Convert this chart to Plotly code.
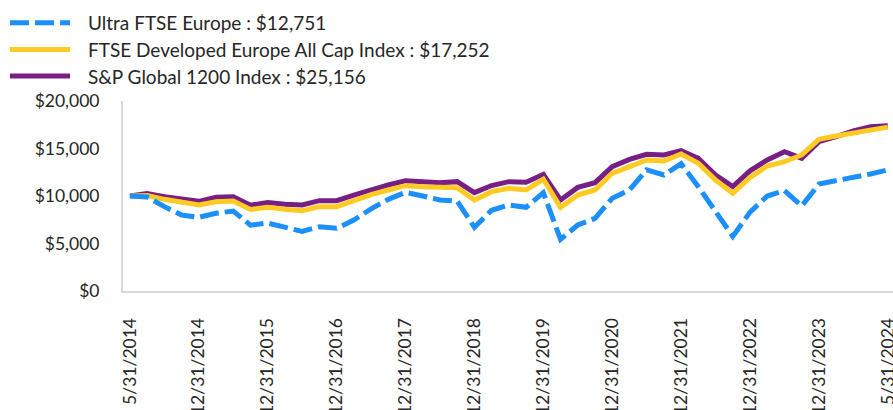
import plotly.graph_objects as go

dates = [
    "5/31/2014", "6/30/2014", "8/31/2014", "9/30/2014", "12/31/2014",
    "3/31/2015", "6/30/2015", "9/30/2015", "12/31/2015",
    "3/31/2016", "6/30/2016", "9/30/2016", "12/31/2016",
    "3/31/2017", "6/30/2017", "9/30/2017", "12/31/2017",
    "3/31/2018", "6/30/2018", "9/30/2018", "12/31/2018",
    "3/31/2019", "6/30/2019", "9/30/2019", "12/31/2019",
    "3/31/2020", "6/30/2020", "9/30/2020", "12/31/2020",
    "3/31/2021", "6/30/2021", "9/30/2021", "12/31/2021",
    "3/31/2022", "6/30/2022", "9/30/2022", "12/31/2022",
    "3/31/2023", "6/30/2023", "9/30/2023", "12/31/2023",
    "1/31/2024", "2/29/2024", "3/31/2024", "5/31/2024",
]

tick_labels = [
    "5/31/2014", "12/31/2014", "12/31/2015", "12/31/2016", "12/31/2017",
    "12/31/2018", "12/31/2019", "12/31/2020", "12/31/2021", "12/31/2022",
    "12/31/2023", "5/31/2024",
]

y_ticks = [0, 5000, 10000, 15000, 20000]
y_tick_labels = ["$0", "$5,000", "$10,000", "$15,000", "$20,000"]

ultra_ftse_europe = [
    10000, 9900, 8880, 8000, 7750, 8180, 8420, 6930, 7150, 6730,
    6280, 6770, 6600, 7470, 8650, 9650, 10390, 10000, 9580, 9470,
    6700, 8500, 9050, 8810, 10350, 5440, 6950, 7650, 9760, 10630,
    12760, 12210, 13400, 10980, 8350, 5750, 8300, 10000, 10560, 8950,
    11260, 11580, 11900, 12320, 12751,
]

ftse_dev_europe = [
    10000, 10050, 9650, 9330, 9050, 9400, 9470, 8580, 8810, 8610,
    8460, 8880, 8880, 9510, 10140, 10630, 11090, 10980, 10880, 10880,
    9580, 10460, 10810, 10630, 11760, 8810, 10100, 10630, 12390, 13090,
    13790, 13680, 14420, 13440, 11680, 10280, 11950, 13160, 13610, 14320,
    15970, 16320, 16670, 17020, 17252,
]

sp_global_1200 = [
    10000, 10250, 9930, 9680, 9440, 9860, 9930, 9030, 9310, 9140,
    9050, 9510, 9510, 10100, 10690, 11160, 11610, 11510, 11400, 11510,
    10350, 11100, 11510, 11440, 12280, 9580, 10910, 11400, 13090, 13860,
    14390, 14320, 14770, 13970, 12210, 10980, 12650, 13790, 14670, 13970,
    15720, 16240, 16840, 17300, 17400,
]

legend_labels = [
    "Ultra FTSE Europe : $12,751",
    "FTSE Developed Europe All Cap Index : $17,252",
    "S&P Global 1200 Index : $25,156",
]

BLUE = "#1B8FFA"
YELLOW = "#FFCB22"
PURPLE = "#781E85"
DASH = "19px,6px"
FONT = "Lato"
TXT = "#262626"
FS_LEG = 19
FS_TICK = 17.5

W, H = 893, 410
ML, MR, MT, MB = 123, 0, 101, 119
PW, PH = W - ML - MR, H - MT - MB


def px_x(px):
    return (px - ML) / PW


def px_y(py):
    return (H - MB - py) / PH


fig = go.Figure()
fig.add_trace(go.Scatter(x=dates, y=sp_global_1200, mode="lines",
                         line=dict(color=PURPLE, width=5), showlegend=False))
fig.add_trace(go.Scatter(x=dates, y=ftse_dev_europe, mode="lines",
                         line=dict(color=YELLOW, width=5), showlegend=False))
fig.add_trace(go.Scatter(x=dates, y=ultra_ftse_europe, mode="lines",
                         line=dict(color=BLUE, width=5, dash=DASH), showlegend=False))

legend_styles = [(BLUE, DASH), (YELLOW, "solid"), (PURPLE, "solid")]
legend_y = [22.7, 49.5, 76]
shapes = []
annotations = []
for (col, dash), ly, lab in zip(legend_styles, legend_y, legend_labels):
    shapes.append(dict(type="line", xref="paper", yref="paper",
                       x0=px_x(10), x1=px_x(70), y0=px_y(ly), y1=px_y(ly),
                       line=dict(color=col, width=5, dash=dash)))
    annotations.append(dict(xref="paper", yref="paper", x=px_x(86), y=px_y(ly),
                            xanchor="left", yanchor="middle", text=lab,
                            showarrow=False, font=dict(family=FONT, size=FS_LEG, color=TXT)))

fig.update_layout(
    width=W, height=H,
    margin=dict(l=ML, r=MR, t=MT, b=MB),
    paper_bgcolor="white", plot_bgcolor="white",
    font=dict(family=FONT, size=FS_TICK, color=TXT),
    shapes=shapes, annotations=annotations,
    showlegend=False,
)
fig.update_xaxes(
    type="category", range=[-0.4, 44.3],
    tickmode="array", tickvals=tick_labels, ticktext=tick_labels,
    tickangle=-90, ticklabelstandoff=18,
    showgrid=False, zeroline=False,
    showline=True, linecolor="#d9d9d9", linewidth=2,
    ticks="", automargin=False,
    tickfont=dict(family=FONT, size=FS_TICK, color=TXT),
)
fig.update_yaxes(
    range=[0, 20000], tickmode="array", tickvals=y_ticks, ticktext=y_tick_labels,
    showgrid=False, zeroline=False,
    showline=True, linecolor="#d9d9d9", linewidth=2,
    ticks="", ticklabelstandoff=18, automargin=False,
    tickfont=dict(family=FONT, size=FS_TICK, color=TXT),
)

fig.write_html("out.html")
